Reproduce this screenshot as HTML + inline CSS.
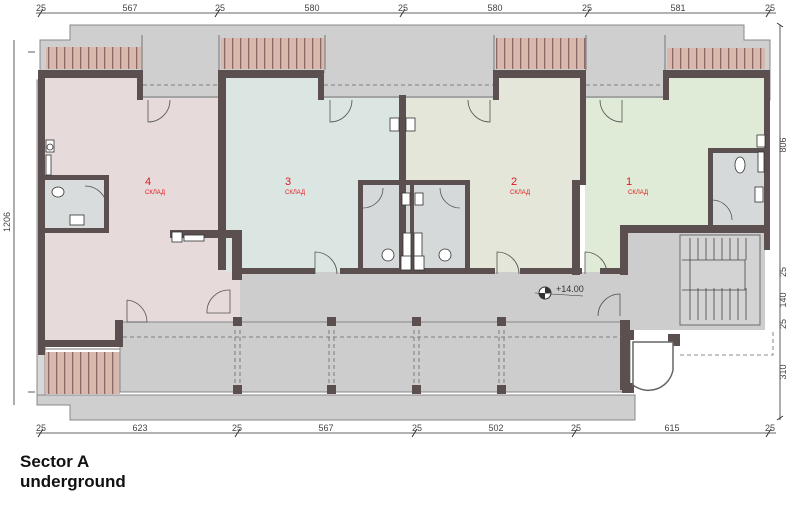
<!DOCTYPE html>
<html><head><meta charset="utf-8"><style>
html,body{margin:0;padding:0;background:#fff;width:800px;height:510px;overflow:hidden}
svg{display:block}
text{font-family:"Liberation Sans",sans-serif}
</style></head><body>
<svg width="800" height="510" viewBox="0 0 800 510" xmlns="http://www.w3.org/2000/svg">
<defs>
<pattern id="bal" width="8" height="10" patternUnits="userSpaceOnUse">
<rect width="8" height="10" fill="#d8b7ad"/><rect x="0" width="1.3" height="10" fill="#8a6a66"/>
</pattern>
</defs>
<g stroke="#333" stroke-width="0.8" fill="none">
<line x1="36" y1="13" x2="776" y2="13"/>
<line x1="36" y1="433" x2="776" y2="433"/>
<line x1="14" y1="40" x2="14" y2="405"/>
<line x1="780" y1="25" x2="780" y2="420"/>
<line x1="28" y1="52" x2="35" y2="52"/><line x1="28" y1="392" x2="35" y2="392"/>
</g>
<g stroke="#333" stroke-width="1">
<path d="M38 17l5-8M215 17l5-8M400 17l5-8M585 17l5-8M766 17l5-8M38 437l5-8M235 437l5-8M412 437l5-8M572 437l5-8M766 437l5-8M777 23l6 4M777 420l6 -4"/>
</g>
<g font-size="9" fill="#444" text-anchor="middle">
<text x="41" y="11">25</text><text x="130" y="11">567</text><text x="220" y="11">25</text><text x="312" y="11">580</text><text x="403" y="11">25</text><text x="495" y="11">580</text><text x="587" y="11">25</text><text x="678" y="11">581</text><text x="770" y="11">25</text>
<text x="41" y="431">25</text><text x="140" y="431">623</text><text x="237" y="431">25</text><text x="326" y="431">567</text><text x="417" y="431">25</text><text x="496" y="431">502</text><text x="576" y="431">25</text><text x="672" y="431">615</text><text x="770" y="431">25</text>
<text transform="translate(10,222) rotate(-90)">1206</text>
<text transform="translate(786,145) rotate(-90)">806</text>
<text transform="translate(786,272) rotate(-90)">25</text>
<text transform="translate(786,300) rotate(-90)">140</text>
<text transform="translate(786,324) rotate(-90)">25</text>
<text transform="translate(786,372) rotate(-90)">310</text>
</g>
<path d="M40 40H70V25H744V40H770V100H40Z" fill="#cfcfcf" stroke="#888" stroke-width="1"/>
<path d="M37 80H45V400H37Z" fill="#d8d8d8" stroke="#888"/>
<path d="M37 395V405H70V420H635V395Z" fill="#cfcfcf" stroke="#888"/>
<rect x="46" y="47" width="96" height="22" fill="url(#bal)"/>
<rect x="221" y="38" width="104" height="31" fill="url(#bal)"/>
<rect x="496" y="38" width="90" height="31" fill="url(#bal)"/>
<rect x="667" y="48" width="98" height="21" fill="url(#bal)"/>
<rect x="45" y="352" width="75" height="42" fill="url(#bal)"/>
<g stroke="#777" stroke-width="1" fill="none">
<path d="M46 72H142M221 72H325M496 72H586M667 72H765M45 349H120"/>
<path d="M142 35V70M219 35V70M325 35V70M494 35V70M586 35V70M665 35V70"/>
<path d="M143 97H218M324 97H493M586 97H663"/>
</g>
<path d="M45 78H140V98H220V270H240V322H120V345H45Z" fill="#e6dadb"/>
<path d="M225 78H320V98H400V272H225Z" fill="#dbe6e3"/>
<path d="M405 98H495V78H580V272H405Z" fill="#e3e6d9"/>
<path d="M585 98H665V78H765V230H625V272H585Z" fill="#dfebd6"/>
<rect x="240" y="272" width="390" height="50" fill="#cdcdcd"/>
<rect x="120" y="322" width="510" height="70" fill="#cdcdcd" stroke="#888"/>
<rect x="625" y="230" width="140" height="100" fill="#cdcdcd"/>
<rect x="680" y="235" width="80" height="90" fill="#d3d3d3" stroke="#555" stroke-width="0.8"/>
<g stroke="#444" stroke-width="0.8" fill="none">
<path d="M690 238V320M698 238V260M706 238V260M714 238V260M722 238V260M730 238V260M738 238V260M746 238V260M698 288V320M706 288V320M714 288V320M722 288V320M730 288V320M738 288V320M746 288V320M682 260H745V290H682"/>
</g>
<rect x="45" y="180" width="62" height="50" fill="#d9dcdc"/>
<rect x="362" y="185" width="48" height="85" fill="#d5d9d9"/>
<rect x="412" y="185" width="55" height="85" fill="#d5d9d9"/>
<rect x="712" y="150" width="53" height="75" fill="#d5d9d9"/>
<g fill="#5b4f50">
<rect x="38" y="70" width="7" height="285"/>
<rect x="38" y="70" width="105" height="8"/>
<rect x="137" y="70" width="6" height="30"/>
<rect x="218" y="70" width="8" height="200"/>
<rect x="218" y="70" width="106" height="8"/>
<rect x="318" y="70" width="6" height="30"/>
<rect x="399" y="95" width="7" height="175"/>
<rect x="493" y="70" width="93" height="8"/>
<rect x="493" y="70" width="6" height="30"/>
<rect x="580" y="70" width="6" height="115"/>
<rect x="572" y="180" width="8" height="95"/>
<rect x="663" y="70" width="107" height="8"/>
<rect x="663" y="70" width="6" height="30"/>
<rect x="764" y="70" width="6" height="180"/>
<rect x="620" y="225" width="150" height="8"/>
<rect x="620" y="225" width="8" height="50"/>
<rect x="232" y="230" width="10" height="50"/>
<rect x="170" y="230" width="70" height="8"/>
<rect x="240" y="268" width="75" height="6"/>
<rect x="340" y="268" width="155" height="6"/>
<rect x="520" y="268" width="62" height="6"/>
<rect x="600" y="268" width="28" height="6"/>
<rect x="38" y="340" width="78" height="7"/>
<rect x="115" y="320" width="8" height="27"/>
<rect x="45" y="175" width="64" height="5"/>
<rect x="104" y="175" width="5" height="55"/>
<rect x="45" y="228" width="64" height="5"/>
<rect x="358" y="180" width="110" height="5"/>
<rect x="358" y="180" width="5" height="92"/>
<rect x="410" y="180" width="4" height="92"/>
<rect x="465" y="180" width="5" height="92"/>
<rect x="708" y="148" width="57" height="5"/>
<rect x="708" y="148" width="5" height="78"/>
<rect x="620" y="320" width="10" height="70"/>
<rect x="668" y="334" width="12" height="12"/>
<rect x="233" y="317" width="9" height="9"/><rect x="327" y="317" width="9" height="9"/><rect x="412" y="317" width="9" height="9"/><rect x="497" y="317" width="9" height="9"/>
<rect x="233" y="385" width="9" height="9"/><rect x="327" y="385" width="9" height="9"/><rect x="412" y="385" width="9" height="9"/><rect x="497" y="385" width="9" height="9"/>
<rect x="622" y="330" width="12" height="10"/><rect x="622" y="383" width="12" height="10"/>
</g>
<g stroke="#666" stroke-width="0.8" stroke-dasharray="4,3" fill="none">
<path d="M143 85H218M324 85H493M586 85H663"/>
<path d="M123 337H622M680 355H773V330"/>
<path d="M235 330V385M240 330V385M329 330V385M334 330V385M414 330V385M419 330V385M499 330V385M504 330V385"/>
</g>
<g stroke="#555" stroke-width="0.8" fill="none">
<path d="M148 100V122A22 22 0 0 0 170 100"/>
<path d="M330 100V122A22 22 0 0 0 352 100"/>
<path d="M468 100A22 22 0 0 0 490 122V100"/>
<path d="M600 100A22 22 0 0 0 622 122V100"/>
<path d="M85 186A22 22 0 0 1 107 208"/>
<path d="M315 274V252A22 22 0 0 1 337 274"/>
<path d="M497 274V252A22 22 0 0 1 519 274"/>
<path d="M585 274V252A22 22 0 0 1 607 274"/>
<path d="M207 313A22 22 0 0 1 230 290V313Z"/>
<path d="M127 300V322H147A22 22 0 0 0 127 300"/>
<path d="M363 208A20 20 0 0 0 383 188"/>
<path d="M440 188A20 20 0 0 0 460 208"/>
<path d="M712 200A20 20 0 0 1 732 220"/>
<path d="M598 316A22 22 0 0 1 620 294V316"/>
<path d="M633 342H673V370A25 25 0 0 1 633 385Z" fill="#fff" stroke="#666" stroke-width="1.5"/>
</g>
<g fill="#fff" stroke="#333" stroke-width="0.8">
<rect x="46" y="140" width="8" height="12"/><circle cx="50" cy="147" r="3"/>
<rect x="46" y="155" width="5" height="20"/>
<ellipse cx="58" cy="192" rx="6" ry="5"/><rect x="70" y="215" width="14" height="10"/>
<rect x="172" y="232" width="10" height="10"/><rect x="184" y="235" width="20" height="6"/>
<rect x="390" y="118" width="9" height="13"/><rect x="406" y="118" width="9" height="13"/>
<rect x="402" y="193" width="8" height="12"/><rect x="415" y="193" width="8" height="12"/>
<ellipse cx="388" cy="255" rx="6" ry="6"/><ellipse cx="445" cy="255" rx="6" ry="6"/>
<rect x="403" y="233" width="8" height="35"/><rect x="414" y="233" width="8" height="35"/>
<rect x="401" y="256" width="10" height="14"/><rect x="414" y="256" width="10" height="14"/>
<rect x="757" y="135" width="8" height="12"/><ellipse cx="740" cy="165" rx="5" ry="8"/><rect x="755" y="187" width="8" height="15"/><rect x="758" y="152" width="6" height="20"/>
</g>
<circle cx="545" cy="293" r="6" fill="#fff" stroke="#333"/>
<path d="M545 293V287A6 6 0 0 1 551 293ZM545 293V299A6 6 0 0 1 539 293Z" fill="#333"/>
<line x1="535" y1="293" x2="583" y2="296" stroke="#333" stroke-width="0.6"/>
<text x="556" y="292" font-size="9" fill="#333">+14.00</text>
<g fill="#e0191c" text-anchor="middle">
<text x="148" y="185" font-size="11">4</text><text x="155" y="194" font-size="6">СКЛАД</text>
<text x="288" y="185" font-size="11">3</text><text x="295" y="194" font-size="6">СКЛАД</text>
<text x="514" y="185" font-size="11">2</text><text x="520" y="194" font-size="6">СКЛАД</text>
<text x="629" y="185" font-size="11">1</text><text x="638" y="194" font-size="6">СКЛАД</text>
</g>
<text x="20" y="467" font-size="17" font-weight="bold" fill="#111">Sector  A</text>
<text x="20" y="487" font-size="17" font-weight="bold" fill="#111">underground</text>
</svg>
</body></html>
